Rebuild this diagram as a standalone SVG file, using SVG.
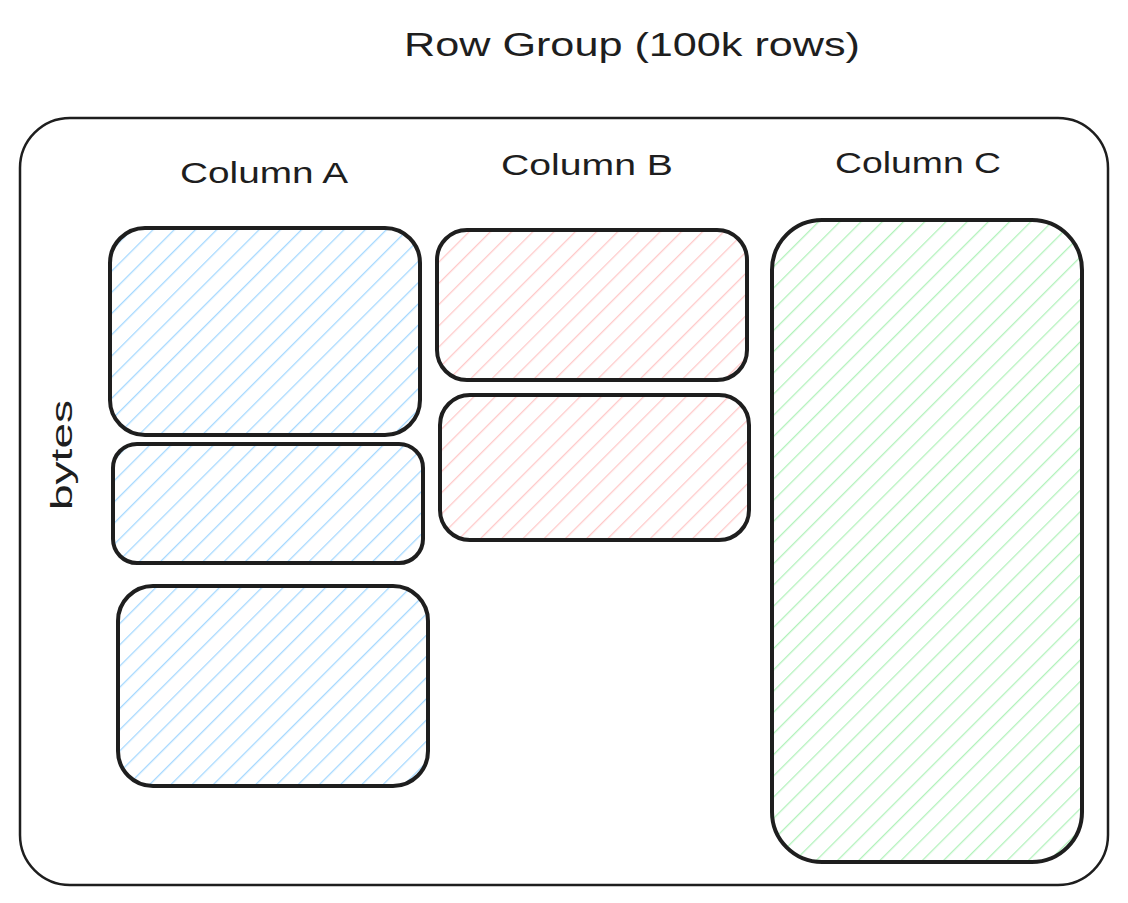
<svg xmlns="http://www.w3.org/2000/svg" width="1128" height="903" viewBox="0 0 1128 903">
<defs>
<pattern id="hBlue" patternUnits="userSpaceOnUse" width="15" height="15" patternTransform="rotate(45)">
<line x1="0" y1="0" x2="0" y2="15" stroke="#a5d8ff" stroke-width="2.6"/>
</pattern>
<pattern id="hRed" patternUnits="userSpaceOnUse" width="15" height="15" patternTransform="rotate(45)">
<line x1="0" y1="0" x2="0" y2="15" stroke="#ffc9c9" stroke-width="2.6"/>
</pattern>
<pattern id="hGreen" patternUnits="userSpaceOnUse" width="15" height="15" patternTransform="rotate(45)">
<line x1="0" y1="0" x2="0" y2="15" stroke="#b2f2bb" stroke-width="2.6"/>
</pattern>
</defs>
<style>
.box{stroke:#1e1e1e;stroke-width:4}
.outer{fill:none;stroke:#1e1e1e;stroke-width:2.5}
.lbl{font-family:"Liberation Sans",Arial,sans-serif;fill:#1e1e1e;text-anchor:middle}
</style>
<rect width="1128" height="903" fill="#ffffff"/>
<g id="title"><text class="lbl" x="632" y="56" font-size="34" textLength="456" lengthAdjust="spacingAndGlyphs">Row Group (100k rows)</text></g>
<g id="rowgroup"><rect class="outer" x="20" y="118" width="1088" height="767" rx="50"/></g>
<g id="colA-label"><text class="lbl" x="264" y="183" font-size="30" textLength="168" lengthAdjust="spacingAndGlyphs">Column A</text></g>
<g id="colB-label"><text class="lbl" x="587" y="175" font-size="30" textLength="172" lengthAdjust="spacingAndGlyphs">Column B</text></g>
<g id="colC-label"><text class="lbl" x="918" y="173" font-size="30" textLength="166" lengthAdjust="spacingAndGlyphs">Column C</text></g>
<g id="bytes-label"><text class="lbl" x="0" y="0" font-size="30" transform="translate(72,455) rotate(-90)" textLength="110" lengthAdjust="spacingAndGlyphs">bytes</text></g>
<g id="a1"><rect class="box" x="110" y="228" width="310" height="207" rx="35" fill="url(#hBlue)"/></g>
<g id="a2"><rect class="box" x="113" y="444" width="310" height="119" rx="24" fill="url(#hBlue)"/></g>
<g id="a3"><rect class="box" x="118" y="586" width="310" height="200" rx="35" fill="url(#hBlue)"/></g>
<g id="b1"><rect class="box" x="437" y="230" width="310" height="150" rx="30" fill="url(#hRed)"/></g>
<g id="b2"><rect class="box" x="440" y="395" width="309" height="145" rx="30" fill="url(#hRed)"/></g>
<g id="c1"><rect class="box" x="772" y="220" width="310" height="642" rx="50" fill="url(#hGreen)"/></g>
<g id="connectors"></g>
</svg>
